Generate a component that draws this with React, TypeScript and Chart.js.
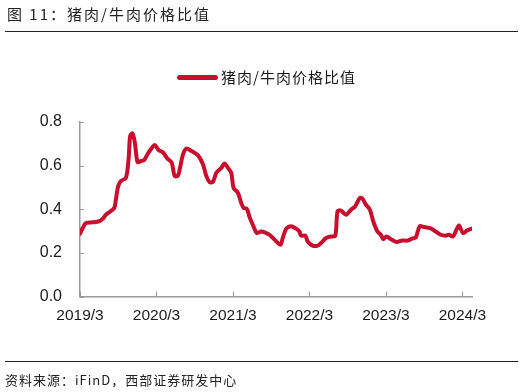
import React, { useEffect, useRef } from "react";
import { Chart, registerables } from "chart.js";

Chart.register(...registerables);

const titleText = "图 11：猪肉/牛肉价格比值";
const seriesName = "猪肉/牛肉价格比值";
const sourceText = "资料来源：iFinD，西部证券研发中心";

// x positions: months elapsed since 2019/3
const tickMonths = [0, 12, 24, 36, 48, 60];
const tickLabels = ["2019/3", "2020/3", "2021/3", "2022/3", "2023/3", "2024/3"];

const months = [
  0, 0.42, 0.94, 1.99, 3.02, 3.55, 4.07, 4.58, 5.37, 5.63, 5.99, 6.41, 7.2, 7.62, 7.87, 8.24, 8.6,
  9.03, 9.54, 10.06, 10.59, 11.11, 11.73, 12.31, 13.03, 13.72, 14.35, 14.6, 14.86, 15.38, 15.75,
  16.16, 16.69, 17.48, 18.51, 19.29, 19.82, 20.34, 20.85, 21.39, 22.17, 22.69, 23.2, 23.73, 24.09,
  24.77, 25.3, 25.66, 26.17, 26.59, 27.11, 27.74, 28.43, 29.21, 29.73, 30.82, 31.45, 31.81, 32.34,
  33.12, 33.9, 34.42, 34.68, 35.36, 35.72, 36.5, 37.28, 37.81, 38.6, 39.38, 40.05, 40.41, 40.94,
  41.73, 42.51, 43.18, 43.92, 44.32, 44.86, 45.48, 46, 46.67, 47.2, 47.56, 48.08, 48.77, 49.64,
  50.58, 51.36, 52.15, 52.68, 53.3, 53.97, 55.02, 55.8, 56.59, 57.37, 57.89, 58.51, 58.94, 59.45,
  60.08, 60.75, 61.44,
];

const ratio = [
  0.288, 0.314, 0.337, 0.34, 0.345, 0.356, 0.375, 0.386, 0.406, 0.444, 0.506, 0.529, 0.544, 0.629,
  0.736, 0.748, 0.706, 0.616, 0.621, 0.625, 0.652, 0.675, 0.695, 0.672, 0.66, 0.632, 0.616, 0.586,
  0.552, 0.555, 0.598, 0.652, 0.678, 0.667, 0.647, 0.606, 0.552, 0.524, 0.526, 0.567, 0.59, 0.61,
  0.59, 0.567, 0.498, 0.475, 0.429, 0.406, 0.402, 0.365, 0.329, 0.291, 0.298, 0.291, 0.283, 0.252,
  0.237, 0.268, 0.31, 0.322, 0.311, 0.298, 0.279, 0.279, 0.252, 0.233, 0.233, 0.245, 0.268, 0.275,
  0.279, 0.391, 0.394, 0.375, 0.398, 0.414, 0.452, 0.448, 0.421, 0.398, 0.345, 0.298, 0.283, 0.263,
  0.275, 0.263, 0.25, 0.257, 0.256, 0.266, 0.271, 0.322, 0.319, 0.312, 0.298, 0.283, 0.279, 0.283,
  0.275, 0.298, 0.326, 0.291, 0.303, 0.311,
];

const RED = "#C8102E";
const AXIS = "#9a9a9a";
const TEXT = "#1a1a1a";
const CJK = '"Noto Sans CJK SC", "Noto Sans", sans-serif';
const LATIN = '"Liberation Sans", Arial, sans-serif';

export default function App() {
  const ref = useRef<HTMLCanvasElement>(null);

  useEffect(() => {
    if (!ref.current) return;
    const insideTicks = {
      id: "insideTicks",
      afterDraw(chart: any) {
        const { ctx, chartArea } = chart;
        const xs = chart.scales.x;
        const ys = chart.scales.y;
        ctx.save();
        ctx.strokeStyle = AXIS;
        ctx.lineWidth = 1;
        xs.ticks.forEach((t: any) => {
          const px = Math.round(xs.getPixelForValue(t.value)) + 0.5;
          ctx.beginPath();
          ctx.moveTo(px, chartArea.bottom);
          ctx.lineTo(px, chartArea.bottom - 5);
          ctx.stroke();
        });
        ys.ticks.forEach((t: any) => {
          const py = Math.round(ys.getPixelForValue(t.value)) + 0.5;
          ctx.beginPath();
          ctx.moveTo(chartArea.left, py);
          ctx.lineTo(chartArea.left + 4, py);
          ctx.stroke();
        });
        ctx.restore();
      },
    };

    const chart = new Chart(ref.current, {
      type: "line",
      data: {
        datasets: [
          {
            label: seriesName,
            data: months.map((m, i) => ({ x: m, y: ratio[i] })),
            borderColor: RED,
            backgroundColor: RED,
            borderWidth: 4,
            pointRadius: 0,
            tension: 0.3,
            borderJoinStyle: "round",
            borderCapStyle: "round",
            fill: false,
          },
        ],
      },
      options: {
        responsive: false,
        animation: false,
        devicePixelRatio: 1,
        layout: { padding: { top: 122, right: 54, left: 0, bottom: 0 } },
        plugins: {
          legend: { display: false },
          title: { display: false },
          tooltip: { enabled: false },
        },
        scales: {
          x: {
            type: "linear",
            min: 0,
            max: 61.5,
            afterBuildTicks: (scale: any) => {
              scale.ticks = tickMonths.map((v) => ({ value: v }));
            },
            afterFit: (scale: any) => {
              scale.height = 95.5;
            },
            grid: { display: false, drawTicks: false },
            border: { display: true, color: AXIS, width: 1.5 },
            ticks: {
              autoSkip: false,
              maxRotation: 0,
              padding: 10,
              color: TEXT,
              font: { family: LATIN, size: 15.5 },
              callback: (v: any) => {
                const i = tickMonths.indexOf(Number(v));
                return i >= 0 ? tickLabels[i] : "";
              },
            },
          },
          y: {
            min: 0,
            max: 0.8,
            afterFit: (scale: any) => {
              scale.width = 80;
            },
            grid: { display: false, drawTicks: false },
            border: { display: true, color: AXIS, width: 1.5 },
            ticks: {
              stepSize: 0.2,
              padding: 18,
              color: TEXT,
              font: { family: LATIN, size: 16 },
              callback: (v: any) => Number(v).toFixed(1),
            },
          },
        },
      },
      plugins: [insideTicks],
    });
    return () => chart.destroy();
  }, []);

  return (
    <div
      style={{
        position: "fixed",
        left: 0,
        top: 0,
        width: 526,
        height: 392,
        background: "#fff",
        overflow: "hidden",
      }}
    >
      <canvas
        ref={ref}
        width={526}
        height={392}
        style={{ position: "absolute", left: 0, top: 0, width: 526, height: 392 }}
      />
      <div
        style={{
          position: "absolute",
          left: 7,
          top: 4,
          fontFamily: CJK,
          fontSize: 15,
          lineHeight: "20px",
          letterSpacing: 2,
          color: "#222",
          whiteSpace: "nowrap",
        }}
      >
        {titleText}
      </div>
      <div style={{ position: "absolute", left: 5, top: 31, width: 513, height: 1, background: "#222" }} />
      <div
        style={{
          position: "absolute",
          left: 177,
          top: 74.5,
          width: 41,
          height: 5,
          borderRadius: 2.5,
          background: RED,
        }}
      />
      <div
        style={{
          position: "absolute",
          left: 221,
          top: 67,
          fontFamily: CJK,
          fontSize: 15,
          lineHeight: "20px",
          letterSpacing: 1,
          color: TEXT,
          whiteSpace: "nowrap",
        }}
      >
        {seriesName}
      </div>
      <div style={{ position: "absolute", left: 5, top: 361, width: 513, height: 1, background: "#222" }} />
      <div
        style={{
          position: "absolute",
          left: 5,
          top: 371,
          fontFamily: CJK,
          fontSize: 13,
          lineHeight: "18px",
          letterSpacing: 1,
          color: "#222",
          whiteSpace: "nowrap",
        }}
      >
        {sourceText}
      </div>
    </div>
  );
}
